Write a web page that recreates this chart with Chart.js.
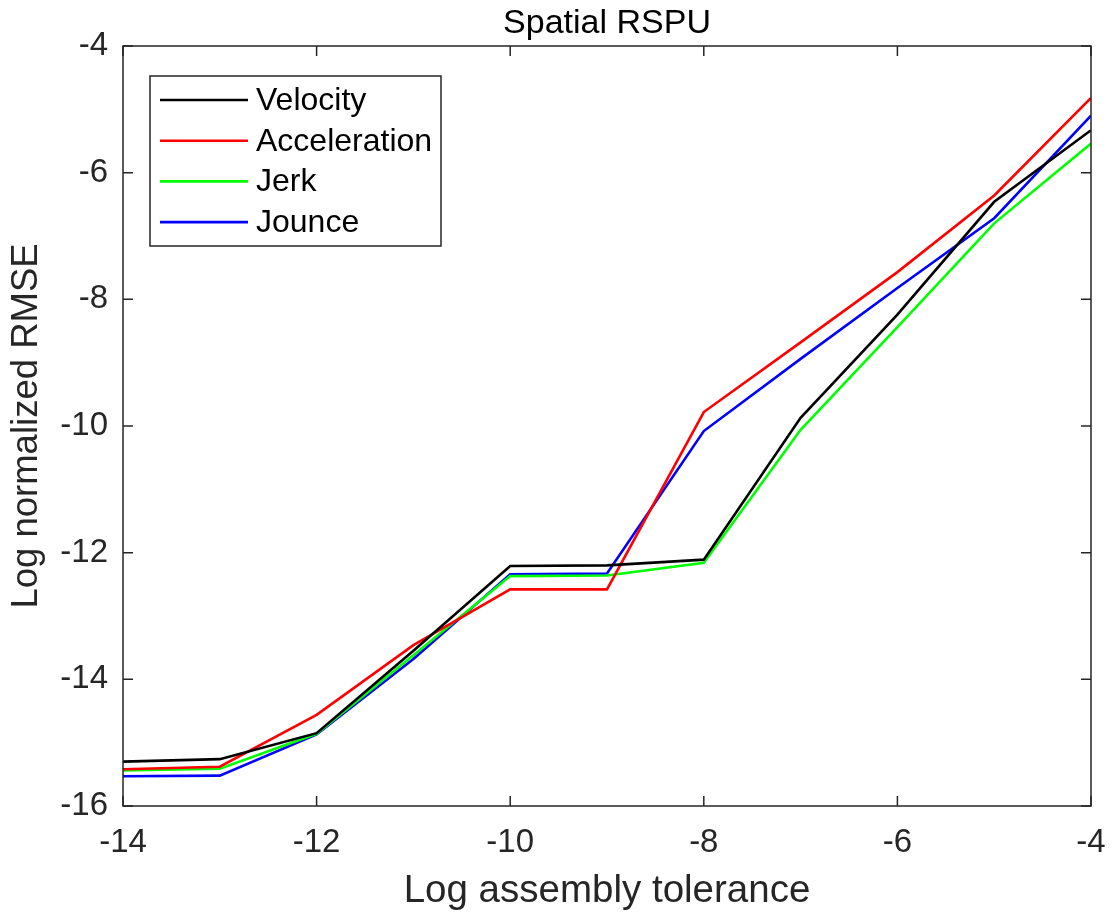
<!DOCTYPE html>
<html>
<head>
<meta charset="utf-8">
<script src="https://cdn.jsdelivr.net/npm/chart.js@4"></script>
<style>
  body { margin: 0; background: #fff; }
  canvas { display: block; }
</style>
</head>
<body>
<canvas id="grafik" width="1114" height="919"></canvas>
<script>
// data
var tolerance = [-14, -13, -12, -11, -10, -9, -8, -7, -6, -5, -4];
var velocity = [-15.30, -15.26, -14.85, -13.55, -12.21, -12.20, -12.11, -9.87, -8.24, -6.46, -5.33];
var acceleration = [-15.42, -15.38, -14.56, -13.46, -12.58, -12.58, -9.78, -8.68, -7.57, -6.36, -4.82];
var jerk = [-15.44, -15.41, -14.86, -13.62, -12.37, -12.36, -12.16, -10.06, -8.44, -6.80, -5.54];
var jounce = [-15.53, -15.52, -14.87, -13.68, -12.34, -12.33, -10.08, -8.94, -7.82, -6.72, -5.10];
var xTicks = [-14, -12, -10, -8, -6, -4];
var yTicks = [-16, -14, -12, -10, -8, -6, -4];

var warna = {
	velocity: '#000000',
	acceleration: '#ff0000',
	jerk: '#00ff00',
	jounce: '#0000ff'
};
var fontx = '"Liberation Sans", Arial, Helvetica, sans-serif';
var axisColor = '#262626';

function titik(ys){
	var pts = [];
	for (var i = 0; i < tolerance.length; i++) {
		pts.push({x: tolerance[i], y: ys[i]});
	}
	return pts;
}

function seri(label, ys, color){
	return {
		label: label,
		data: titik(ys),
		borderColor: color,
		backgroundColor: color,
		borderWidth: 2.6,
		pointRadius: 0,
		tension: 0,
		fill: false
	};
}

// MATLAB style box, inward ticks on all sides, legend inside the axes
var kotak = {
	id: 'kotak',
	afterDatasetsDraw: function(chart){
		var ctx = chart.ctx;
		var a = chart.chartArea;
		var sx = chart.scales.x, sy = chart.scales.y;
		var tl = 10;
		ctx.save();
		ctx.strokeStyle = axisColor;
		ctx.lineWidth = 1.5;
		ctx.strokeRect(a.left, a.top, a.right - a.left, a.bottom - a.top);
		ctx.beginPath();
		xTicks.forEach(function(v){
			var px = sx.getPixelForValue(v);
			ctx.moveTo(px, a.bottom); ctx.lineTo(px, a.bottom - tl);
			ctx.moveTo(px, a.top); ctx.lineTo(px, a.top + tl);
		});
		yTicks.forEach(function(v){
			var py = sy.getPixelForValue(v);
			ctx.moveTo(a.left, py); ctx.lineTo(a.left + tl, py);
			ctx.moveTo(a.right, py); ctx.lineTo(a.right - tl, py);
		});
		ctx.stroke();
		ctx.restore();
	},
	afterDraw: function(chart){
		var ctx = chart.ctx;
		var a = chart.chartArea;
		var bx = a.left + 27, by = a.top + 30, bw = 291, bh = 170;
		ctx.save();
		ctx.fillStyle = '#ffffff';
		ctx.fillRect(bx, by, bw, bh);
		ctx.strokeStyle = axisColor;
		ctx.lineWidth = 1.5;
		ctx.strokeRect(bx, by, bw, bh);
		ctx.font = '32px ' + fontx;
		ctx.textBaseline = 'middle';
		ctx.textAlign = 'left';
		chart.data.datasets.forEach(function(ds, i){
			var yy = by + 24 + i * 40.7;
			ctx.strokeStyle = ds.borderColor;
			ctx.lineWidth = 2.6;
			ctx.beginPath();
			ctx.moveTo(bx + 10, yy);
			ctx.lineTo(bx + 98, yy);
			ctx.stroke();
			ctx.fillStyle = '#000000';
			ctx.fillText(ds.label, bx + 106, yy + 1);
		});
		ctx.restore();
	}
};

var grafik = new Chart(document.getElementById('grafik'), {
	type: 'line',
	data: {
		datasets: [
			seri('Velocity', velocity, warna.velocity),
			seri('Acceleration', acceleration, warna.acceleration),
			seri('Jerk', jerk, warna.jerk),
			seri('Jounce', jounce, warna.jounce)
		]
	},
	options: {
		responsive: false,
		animation: false,
		layout: { padding: { left: 0, right: 23, top: 0, bottom: 0 } },
		plugins: {
			legend: { display: false },
			tooltip: { enabled: false },
			title: {
				display: true,
				text: 'Spatial RSPU',
				fullSize: false,
				color: '#000000',
				font: { family: fontx, size: 34, weight: 'normal' },
				padding: { top: 3.6, bottom: 1.6 }
			}
		},
		scales: {
			x: {
				type: 'linear',
				min: -14,
				max: -4,
				grid: { display: false, drawTicks: false },
				border: { display: false },
				ticks: {
					stepSize: 2,
					padding: 17,
					maxRotation: 0,
					color: '#262626',
					font: { family: fontx, size: 33 }
				},
				title: {
					display: true,
					text: 'Log assembly tolerance',
					color: '#262626',
					font: { family: fontx, size: 38.5 },
					padding: { top: 0, bottom: 5 }
				},
				afterFit: function(scale){
					scale.height = 113;
					scale.paddingLeft = 0;
					scale.paddingRight = 0;
				}
			},
			y: {
				type: 'linear',
				min: -16,
				max: -4,
				grid: { display: false, drawTicks: false },
				border: { display: false },
				ticks: {
					stepSize: 2,
					padding: 15,
					color: '#262626',
					font: { family: fontx, size: 33 }
				},
				title: {
					display: true,
					text: 'Log normalized RMSE',
					color: '#262626',
					font: { family: fontx, size: 36.5 },
					padding: { top: 5, bottom: 0 }
				},
				afterFit: function(scale){ scale.width = 123; }
			}
		}
	},
	plugins: [kotak]
});
</script>
</body>
</html>
